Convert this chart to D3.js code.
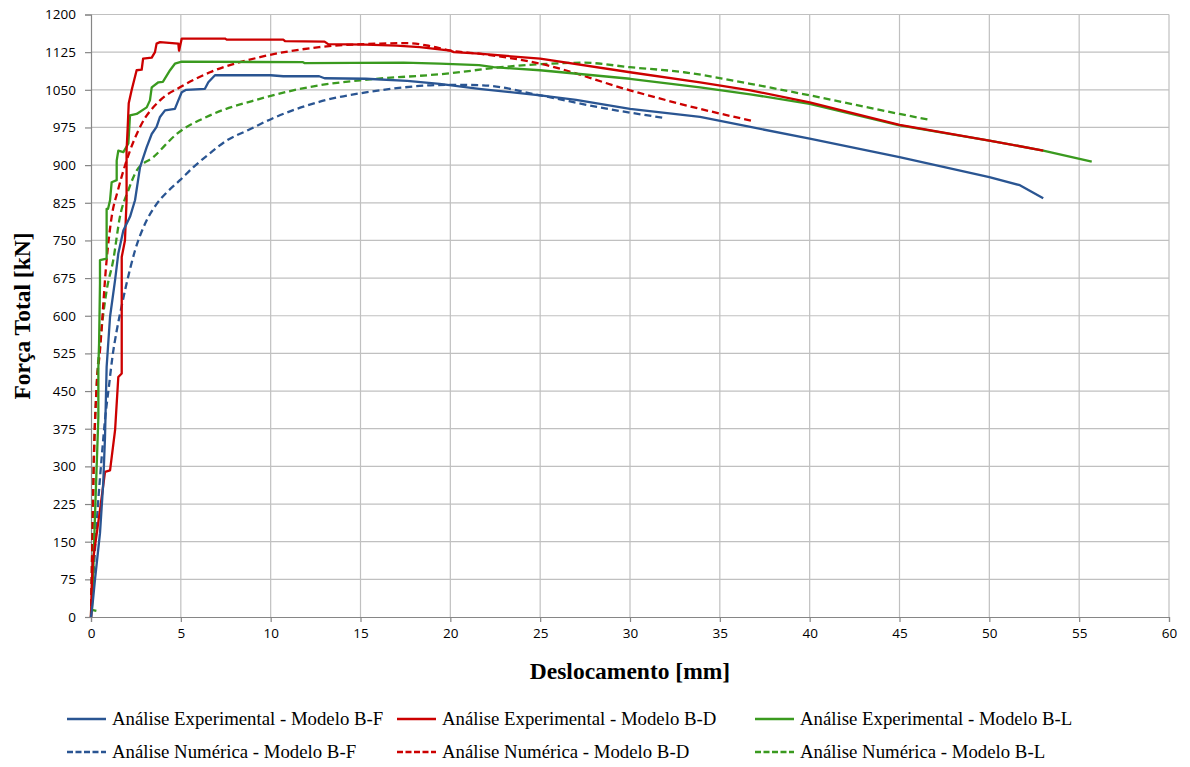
<!DOCTYPE html>
<html>
<head>
<meta charset="utf-8">
<script src="https://cdn.jsdelivr.net/npm/d3@7/dist/d3.min.js"></script>
<style>
  html, body { margin: 0; padding: 0; background: #ffffff; }
  svg { display: block; }
</style>
</head>
<body>
<svg id="chart" width="1190" height="767"></svg>
<script>
// Load–displacement curves: experimental tests and numerical models (B-F, B-D, B-L)
const xTicks = d3.range(0, 61, 5);
const yTicks = d3.range(0, 1201, 75);

// [deslocamento (mm), força (kN)]
const expBF = [[0,0],[0.1,30],[0.22,74],[0.5,167],[0.68,266],[0.78,359],[0.87,498],[1.06,598],[1.34,671],[1.52,724],[1.8,770],[2.17,797],[2.45,830],[2.73,896],[3.1,936],[3.38,962],[3.65,976],[3.84,996],[4.12,1009],[4.67,1012],[4.86,1029],[5.05,1045],[5.3,1050],[6.34,1052],[6.53,1065],[6.9,1079],[10,1079],[10.7,1077],[12.7,1077],[13,1073],[15.3,1072],[17.6,1068],[19.4,1062],[21.6,1052],[25,1039],[27,1030],[30,1012],[33.9,996],[36.7,976],[40,953],[45,916],[50,876],[51.7,860],[53,834]];

const expBD = [[0,0],[0.04,60],[0.1,110],[0.5,213],[0.78,289],[1.06,292],[1.34,372],[1.52,478],[1.71,485],[1.71,717],[1.89,750],[1.98,830],[1.98,929],[2.04,973],[2.1,1023],[2.26,1049],[2.54,1089],[2.82,1090],[2.9,1112],[3.38,1114],[3.56,1125],[3.65,1142],[3.84,1145],[4.86,1142],[4.9,1128],[5.05,1152],[7.46,1152],[7.55,1150],[10.7,1150],[10.8,1147],[13,1146],[13.2,1141],[15.3,1140],[17,1138],[18.3,1135],[20,1128],[20.2,1125],[21.6,1122],[25,1112],[30,1085],[33.9,1065],[36.7,1049],[40,1025],[45,980],[50,949],[53,929]];

const expBL = [[0.3,12],[0.05,14],[0.1,60],[0.22,200],[0.41,399],[0.41,498],[0.45,545],[0.5,664],[0.5,711],[0.87,714],[0.87,813],[0.95,813],[1.06,830],[1.15,866],[1.43,870],[1.43,909],[1.52,929],[1.8,926],[2.08,943],[2.17,999],[2.54,1002],[3.1,1015],[3.28,1029],[3.38,1055],[3.75,1065],[4.0,1066],[4.4,1089],[4.67,1102],[5.05,1106],[11.8,1105],[11.9,1103],[17.4,1104],[19.4,1102],[21.6,1099],[22.4,1095],[25,1089],[30,1072],[33.9,1055],[36.7,1041],[40,1022],[45,979],[50,949],[53,929],[55.7,907]];

const numBF = [[0,0],[0.1,60],[0.25,150],[0.4,230],[0.6,320],[0.8,400],[1.0,460],[1.2,520],[1.43,570],[1.71,620],[1.98,664],[2.45,730],[3.1,790],[3.6,820],[4.2,845],[4.95,870],[5.7,896],[6.6,923],[7.55,949],[8.7,969],[10.1,993],[12.7,1026],[16.1,1049],[18.9,1059],[20,1060],[21.8,1059],[25,1039],[28.3,1015],[31.9,994]];

const numBD = [[0,0],[0.05,100],[0.15,300],[0.3,450],[0.5,531],[0.87,711],[1.15,797],[1.5,850],[1.98,909],[2.73,976],[3.84,1029],[4.95,1055],[6.62,1085],[9.4,1115],[12.7,1135],[16.1,1142],[17.6,1143],[18.9,1137],[20,1128],[21.6,1122],[25,1102],[30,1049],[33.9,1012],[36.95,987]];

const numBL = [[0,0],[0.05,100],[0.15,300],[0.3,450],[0.55,560],[0.87,650],[1.24,711],[1.61,797],[2.08,850],[2.54,889],[3.47,916],[4.77,962],[6.62,999],[9.4,1032],[12.7,1059],[15,1069],[20,1083],[22.8,1095],[25.5,1102],[27.4,1104],[30,1095],[33,1085],[36.7,1062],[40,1039],[45,1002],[46.7,990]];

const seriesNames = [
  "Análise Experimental - Modelo B-F",
  "Análise Experimental - Modelo B-D",
  "Análise Experimental - Modelo B-L",
  "Análise Numérica - Modelo B-F",
  "Análise Numérica - Modelo B-D",
  "Análise Numérica - Modelo B-L"
];

const BLUE = "#2a5592", RED = "#cc0000", GREEN = "#3a9a1f";
const series = [
  { name: seriesNames[0], data: expBF, color: BLUE,  dashed: false },
  { name: seriesNames[1], data: expBD, color: RED,   dashed: false },
  { name: seriesNames[2], data: expBL, color: GREEN, dashed: false },
  { name: seriesNames[3], data: numBF, color: BLUE,  dashed: true },
  { name: seriesNames[4], data: numBD, color: RED,   dashed: true },
  { name: seriesNames[5], data: numBL, color: GREEN, dashed: true }
];

const svg = d3.select("#chart");
const plot = { left: 91, right: 1169, top: 14.5, bottom: 617 };

const x = d3.scaleLinear().domain([0, 60]).range([plot.left, plot.right]);
const y = d3.scaleLinear().domain([0, 1200]).range([plot.bottom, plot.top]);

// grid
const grid = svg.append("g");
grid.selectAll("line.v").data(xTicks.filter(d => d > 0)).join("line")
  .attr("x1", d => x(d)).attr("x2", d => x(d))
  .attr("y1", plot.top).attr("y2", plot.bottom)
  .attr("stroke", "#c0c0c0").attr("stroke-width", 1.2);
grid.selectAll("line.h").data(yTicks.filter(d => d > 0)).join("line")
  .attr("x1", plot.left).attr("x2", plot.right)
  .attr("y1", d => y(d)).attr("y2", d => y(d))
  .attr("stroke", "#c0c0c0").attr("stroke-width", 1.2);

// axes
const tickFont = "'Open Sans', 'Noto Sans', sans-serif";
const xAxis = svg.append("g").attr("transform", `translate(0,${plot.bottom})`)
  .call(d3.axisBottom(x).tickValues(xTicks).tickSize(5).tickPadding(6).tickFormat(d3.format("d")));
const yAxis = svg.append("g").attr("transform", `translate(${plot.left},0)`)
  .call(d3.axisLeft(y).tickValues(yTicks).tickSize(6).tickPadding(9).tickFormat(d3.format("d")));
[xAxis, yAxis].forEach(a => {
  a.select(".domain").attr("stroke", "#868686").attr("stroke-width", 1.2);
  a.selectAll(".tick line").attr("stroke", "#868686").attr("stroke-width", 1.2);
  a.selectAll(".tick text").attr("fill", "#000").style("font-family", tickFont).style("font-size", "13.5px");
});

// curves
const line = d3.line().x(d => x(d[0])).y(d => y(d[1]));
const smooth = d3.line().x(d => x(d[0])).y(d => y(d[1])).curve(d3.curveMonotoneX);
const curves = svg.append("g").attr("fill", "none").attr("stroke-linejoin", "round");
series.slice().reverse().forEach(s => {
  curves.append("path")
    .attr("d", s.dashed ? smooth(s.data) : line(s.data))
    .attr("stroke", s.color)
    .attr("stroke-width", 2.3)
    .attr("stroke-dasharray", s.dashed ? "7,4" : null);
});

// axis titles
const serif = "'Liberation Serif', 'Times New Roman', serif";
svg.append("text")
  .attr("x", 630).attr("y", 679)
  .attr("text-anchor", "middle")
  .style("font-family", serif).style("font-weight", "bold").style("font-size", "23.5px")
  .text("Deslocamento [mm]");
svg.append("text")
  .attr("transform", `translate(30,316) rotate(-90)`)
  .attr("text-anchor", "middle")
  .style("font-family", serif).style("font-weight", "bold").style("font-size", "23.5px")
  .text("Força Total [kN]");

// legend
const legendCols = [67, 397, 755];
const legendRows = [719, 752];
const legend = svg.append("g");
series.forEach((s, i) => {
  const cx = legendCols[i % 3], cy = legendRows[Math.floor(i / 3)];
  legend.append("line")
    .attr("x1", cx).attr("x2", cx + 39).attr("y1", cy).attr("y2", cy)
    .attr("stroke", s.color).attr("stroke-width", 2.3)
    .attr("stroke-dasharray", s.dashed ? "6,2.5" : null);
  legend.append("text")
    .attr("x", cx + 45).attr("y", cy + 6)
    .style("font-family", serif).style("font-size", "18.8px")
    .text(s.name);
});
</script>
</body>
</html>
